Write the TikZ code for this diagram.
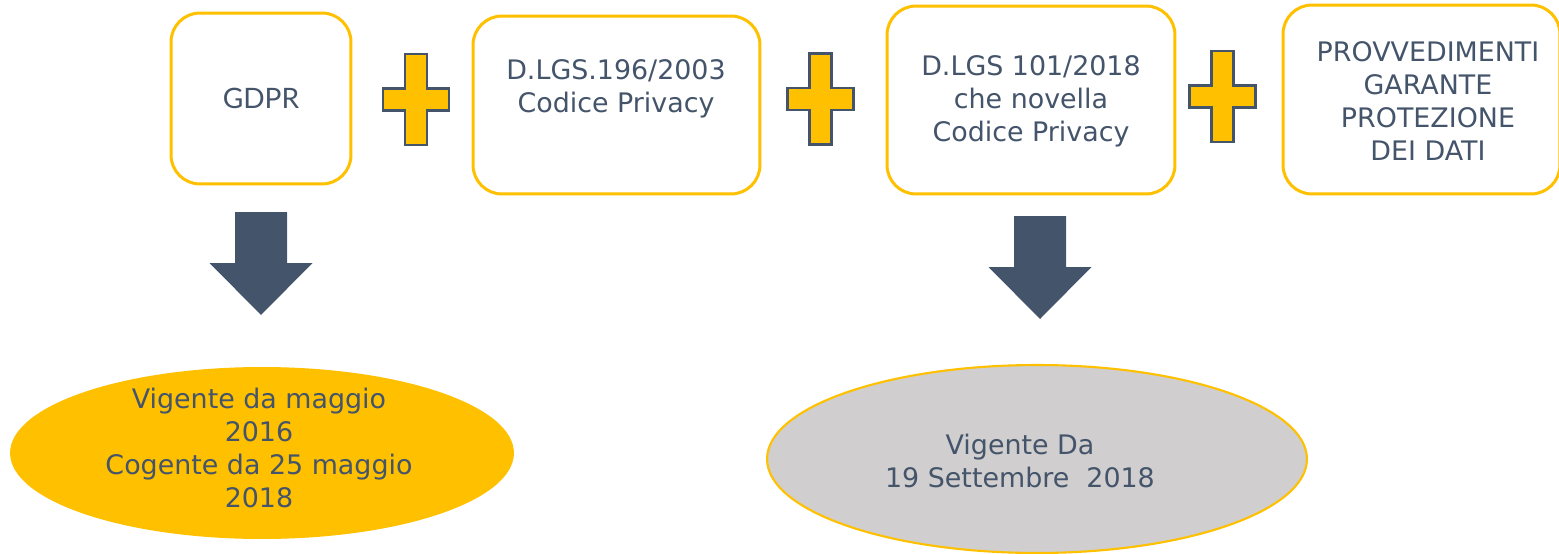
\documentclass[tikz,border=0pt]{standalone}
\usepackage{fontspec}
\setmainfont{DejaVu Sans}
\newfontfamily\latofont{Lato}
\usetikzlibrary{shapes.geometric}

\definecolor{gold}{HTML}{FFC000}
\definecolor{slate}{HTML}{44546A}
\definecolor{lightgrey}{HTML}{D0CECE}

\tikzset{
  box/.style={draw=gold, line width=1.7pt, rounded corners=0.58cm, fill=white},
  txt/.style={text=slate, align=center, font=\fontsize{15.3}{18.7}\selectfont},
  oval/.style={ellipse, inner sep=0pt},
  pluspic/.pic={
    \draw[slate, line width=1.6pt, fill=gold]
      (-11,-45.5) -- (11,-45.5) -- (11,-11) -- (33,-11) -- (33,11) -- (11,11)
      -- (11,45.5) -- (-11,45.5) -- (-11,11) -- (-33,11) -- (-33,-11) -- (-11,-11) -- cycle;
  },
  downpic/.pic={
    \fill[slate] (-26,0) -- (26,0) -- (26,51) -- (51.5,51) -- (0,103)
      -- (-51.5,51) -- (-26,51) -- cycle;
  }
}

\begin{document}
\begin{tikzpicture}[x=0.02cm, y=-0.02cm]
\useasboundingbox (0,0) rectangle (1559,554);

% top row of sources
\node[box, minimum width=3.6cm, minimum height=3.42cm] (gdpr) at (261,98.5) {};
\node[box, minimum width=5.74cm, minimum height=3.56cm] (codice) at (616.5,105) {};
\node[box, minimum width=5.76cm, minimum height=3.76cm] (novella) at (1031,100) {};
\node[box, minimum width=5.54cm, minimum height=3.78cm] (garante) at (1421.5,99.5) {};

\node[txt, font=\latofont\fontsize{16}{18}\selectfont] (gdprtext) at (gdpr) {GDPR};
\node[txt] (codicetext) at (616,89) {D.LGS.196/2003\\Codice Privacy};
\node[txt] (novellatext) at (1031,101) {D.LGS 101/2018\\che novella\\Codice Privacy};
\node[txt] (garantetext) at (1428,101) {PROVVEDIMENTI\\GARANTE\\PROTEZIONE\\DEI DATI};

% plus signs between the boxes
\pic at (416,99.5) {pluspic};
\pic at (820.5,99) {pluspic};
\pic at (1222.5,96.5) {pluspic};

% block arrows
\pic at (261,212) {downpic};
\pic at (1040,216) {downpic};

% dates in force
\node[oval, fill=gold, minimum width=10.08cm, minimum height=3.44cm] (gdprdate) at (262,453) {};
\node[oval, draw=gold, line width=1.2pt, fill=lightgrey, minimum width=10.8cm, minimum height=3.76cm] (novelladate) at (1037,459) {};

\node[txt] (gdprdatetext) at (259,448) {Vigente da maggio\\2016\\Cogente da 25 maggio\\2018};
\node[txt] (novelladatetext) at (1020,461) {Vigente Da\\19 Settembre~ 2018};
\end{tikzpicture}
\end{document}
